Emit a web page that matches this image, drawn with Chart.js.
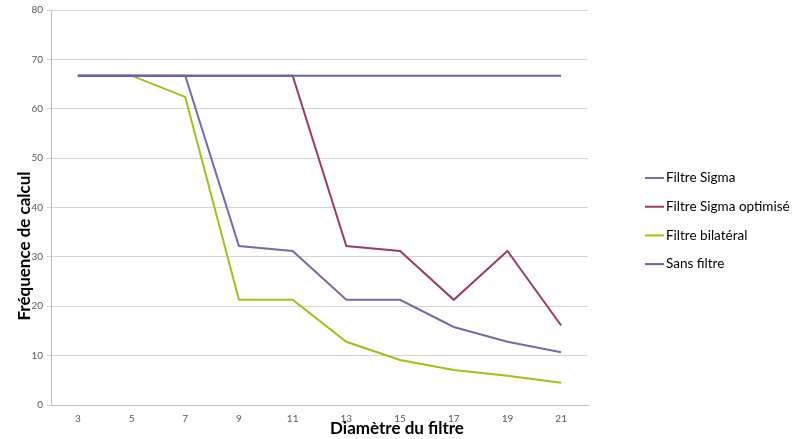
<!DOCTYPE html>
<html>
<head>
<meta charset="utf-8">
<script src="https://cdn.jsdelivr.net/npm/chart.js@4/dist/chart.umd.min.js"></script>
<style>
  html, body { margin: 0; padding: 0; background: #fff; }
  #wrap { width: 792px; height: 439px; }
</style>
</head>
<body>
<div id="wrap"><canvas id="chart" width="792" height="439"></canvas></div>
<script>
// Diameters on the x axis
const diametres = ['3', '5', '7', '9', '11', '13', '15', '17', '19', '21'];

// Series values
const filtreSigma = [66.7, 66.7, 66.7, 32.2, 31.2, 21.3, 21.3, 15.8, 12.8, 10.7];
const filtreSigmaOptimise = [66.7, 66.7, 66.7, 66.7, 66.7, 32.2, 31.2, 21.3, 31.2, 16.1];
const filtreBilateral = [66.7, 66.7, 62.4, 21.3, 21.3, 12.8, 9.1, 7.1, 5.9, 4.5];
const sansFiltre = [66.7, 66.7, 66.7, 66.7, 66.7, 66.7, 66.7, 66.7, 66.7, 66.7];

const seriesNames = ['Filtre Sigma', 'Filtre Sigma optimisé', 'Filtre bilatéral', 'Sans filtre'];
const seriesColors = ['#6E6EAE', '#9A3B69', '#9CC31C', '#6464A8'];

const yTicks = [0, 10, 20, 30, 40, 50, 60, 70, 80];

// Titles + legend drawn on the canvas
const extrasPlugin = {
    id: 'extras',
    afterDraw(chart) {
        const ctx = chart.ctx;
        ctx.save();
        // y axis title
        ctx.fillStyle = '#000';
        ctx.font = 'bold 17px Lato';
        ctx.textAlign = 'center';
        ctx.textBaseline = 'middle';
        ctx.translate(25, 246);
        ctx.rotate(-Math.PI / 2);
        ctx.fillText('Fréquence de calcul', 0, 0);
        ctx.restore();

        ctx.save();
        ctx.fillStyle = '#000';
        ctx.font = 'bold 17px Lato';
        ctx.textAlign = 'center';
        ctx.textBaseline = 'middle';
        ctx.fillText('Diamètre du filtre', 397, 429);

        // legend
        ctx.font = '13.5px Lato';
        ctx.textAlign = 'left';
        chart.data.datasets.forEach(function(ds, i) {
            const y = 178 + i * 28.7;
            ctx.strokeStyle = ds.borderColor;
            ctx.lineWidth = 2;
            ctx.beginPath();
            ctx.moveTo(645, y);
            ctx.lineTo(664, y);
            ctx.stroke();
            ctx.fillStyle = '#000';
            ctx.fillText(ds.label, 666, y);
        });
        ctx.restore();
    }
};

const seriesData = [filtreSigma, filtreSigmaOptimise, filtreBilateral, sansFiltre];
const drawOrder = [1, 2, 3, 0];

new Chart(document.getElementById('chart'), {
    type: 'line',
    data: {
        labels: diametres,
        datasets: seriesData.map(function(values, i) {
            return {
                label: seriesNames[i],
                data: values,
                borderColor: seriesColors[i],
                backgroundColor: seriesColors[i],
                borderWidth: 2,
                pointRadius: 0,
                tension: 0,
                order: drawOrder[i]
            };
        })
    },
    options: {
        responsive: false,
        animation: false,
        layout: { padding: { top: 10, right: 204, bottom: 0, left: 0 } },
        plugins: {
            legend: { display: false },
            tooltip: { enabled: false }
        },
        scales: {
            x: {
                offset: true,
                grid: { display: false, drawTicks: false },
                border: { color: '#BFBFBF', width: 1 },
                ticks: { color: '#595959', font: { family: 'Lato', size: 10 }, padding: 8, maxRotation: 0 },
                afterFit: function(s) { s.height = 34; }
            },
            y: {
                min: 0,
                max: 80,
                afterBuildTicks: function(s) { s.ticks = yTicks.map(function(v) { return { value: v }; }); },
                grid: { color: '#D4D4D4', tickLength: 4, lineWidth: 1 },
                border: { color: '#BFBFBF', width: 1 },
                ticks: { color: '#595959', font: { family: 'Lato', size: 10 }, padding: 4 },
                afterFit: function(s) { s.width = 51; }
            }
        }
    },
    plugins: [extrasPlugin]
});
</script>
</body>
</html>
